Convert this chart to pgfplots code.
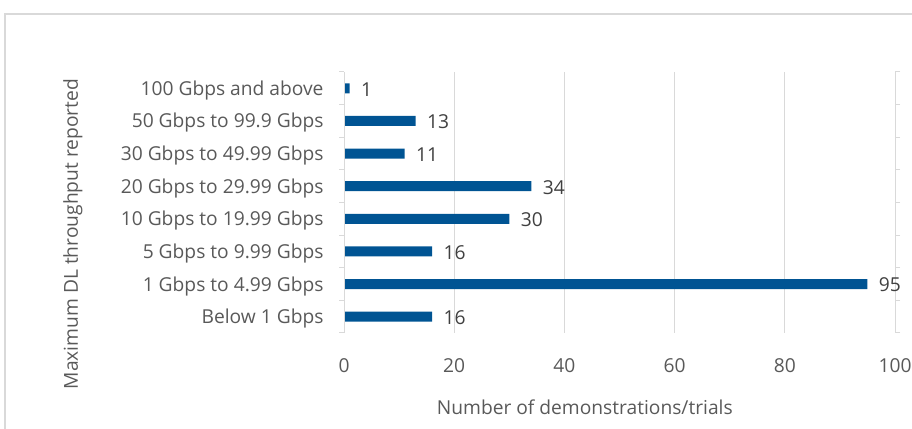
\documentclass[border=0pt]{standalone}
\usepackage{pgfplots}
\pgfplotsset{compat=1.18}
\usepackage{fontspec}
\setmainfont{Open Sans}
\definecolor{barblue}{RGB}{0,84,147}
\definecolor{gridgray}{RGB}{217,217,217}
\definecolor{textgray}{RGB}{89,89,89}
\definecolor{valgray}{RGB}{64,64,64}
\begin{document}
\begin{tikzpicture}
\path[use as bounding box] (0pt,0pt) rectangle (912pt,428pt);
\draw[gridgray, line width=1.2pt] (5pt,-2pt) -- (5pt,414pt) -- (914pt,414pt);
\begin{axis}[
  at={(344pt,95pt)}, anchor=south west,
  width=551pt, height=261pt, scale only axis,
  xmin=0, xmax=100, ymin=-0.5, ymax=7.5,
  xtick={0,20,...,100},
  ytick={0,...,7},
  yticklabels={Below 1 Gbps,1 Gbps to 4.99 Gbps,5 Gbps to 9.99 Gbps,10 Gbps to 19.99 Gbps,20 Gbps to 29.99 Gbps,30 Gbps to 49.99 Gbps,50 Gbps to 99.9 Gbps,100 Gbps and above},
  minor ytick={-0.5,0.5,...,7.5},
  xmajorgrids, major grid style={gridgray, line width=1pt},
  axis line style={draw=none},
  extra description/.code={\draw[gridgray, line width=1pt] (axis cs:0,-0.5) -- (axis cs:0,7.5);},
  major tick length=0pt,
  minor tick length=5pt,
  tick align=outside,
  minor tick style={gridgray, line width=1pt},
  every tick label/.style={font=\fontsize{19.2}{23}\selectfont, text=textgray},
  xticklabel style={yshift=-22pt},
  yticklabel style={xshift=-17pt, yshift=-2pt},
  xlabel={Number of demonstrations/trials},
  ylabel={Maximum DL throughput reported},
  label style={font=\fontsize{19.2}{23}\selectfont, text=textgray},
  xlabel style={at={(axis description cs:0.437,-0.2835)}, anchor=center},
  ylabel style={at={(axis description cs:-0.492,0.379)}, anchor=center},
  xbar, bar width=10pt,
  nodes near coords,
  every node near coord/.append style={font=\fontsize{19.2}{23}\selectfont, text=valgray, xshift=8pt, yshift=-1pt},
  /pgf/number format/assume math mode=true,
  clip=false,
]
\addplot[fill=barblue, draw=none] coordinates {(16,0) (95,1) (16,2) (30,3) (34,4) (11,5) (13,6) (1,7)};
\end{axis}
\end{tikzpicture}
\end{document}
